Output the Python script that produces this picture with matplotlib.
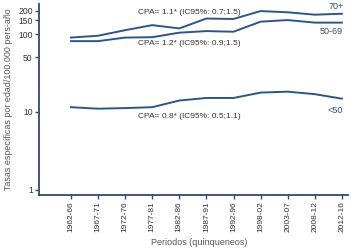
import matplotlib
matplotlib.use("Agg")
from matplotlib import pyplot as plt

# data
periodos = ["1962-66", "1967-71", "1972-76", "1977-81", "1982-86", "1987-91",
            "1992-96", "1998-02", "2003-07", "2008-12", "2012-16"]
edad_70 = [90, 95, 112, 130, 118, 158, 156, 197, 190, 177, 182]
edad_50_69 = [81, 81, 90, 91, 104, 109, 107, 144, 151, 140, 140]
edad_50 = [11.5, 11.0, 11.2, 11.5, 14.0, 15.1, 15.1, 17.7, 18.2, 16.9, 14.8]
yticks = [1, 10, 50, 100, 150, 200]

line_col = "#2d5585"
axis_col = "#34496b"
text_col = "#333333"

plt.rcParams["font.family"] = ["Liberation Sans", "DejaVu Sans"]

fig = plt.figure(figsize=(3.51, 2.48), dpi=100)
ax = fig.add_axes([0.111, 0.214, 0.880, 0.770])

x = list(range(len(periodos)))
for serie in (edad_70, edad_50_69, edad_50):
    ax.plot(x, serie, color=line_col, lw=1.4)

ax.set_yscale("log")
ax.set_ylim(0.86, 243)
ax.set_xlim(-1.18, 10.22)
ax.set_yticks(yticks)
ax.set_yticklabels([str(v) for v in yticks])
ax.minorticks_off()
ax.set_xticks(x)
ax.set_xticklabels(periodos, rotation=90)

for side in ("top", "right"):
    ax.spines[side].set_visible(False)
for side in ("left", "bottom"):
    ax.spines[side].set_color(axis_col)
    ax.spines[side].set_linewidth(1.3)
ax.tick_params(axis="both", colors=axis_col, width=1.0, length=3,
               labelsize=6.2, labelcolor=text_col, pad=1.5)
ax.tick_params(axis="x", labelsize=6)

ax.text(2.47, 187, "CPA= 1.1* (IC95%: 0.7;1.5)", fontsize=6, color=text_col,
        va="center", ha="left")
ax.text(2.47, 74.5, "CPA= 1.2* (IC95%: 0.9;1.5)", fontsize=6, color=text_col,
        va="center", ha="left")
ax.text(2.47, 8.7, "CPA= 0.8* (IC95%: 0.5;1.1)", fontsize=6, color=text_col,
        va="center", ha="left")
ax.text(10.05, 228, "70+", fontsize=6.5, color=axis_col, va="center", ha="right")
ax.text(10.05, 107, "50-69", fontsize=6.5, color=axis_col, va="center", ha="right")
ax.text(10.05, 10.3, "<50", fontsize=6.5, color=axis_col, va="center", ha="right")

ax.set_ylabel("Tasas específicas por edad/100.000 pers-año", fontsize=6.4,
              color="#555555", labelpad=4)
ax.set_xlabel("Periodos (quinqueneos)", fontsize=6.5, color="#555555")
ax.xaxis.set_label_coords(0.52, -0.225)

fig.savefig("out.png", dpi=100)
